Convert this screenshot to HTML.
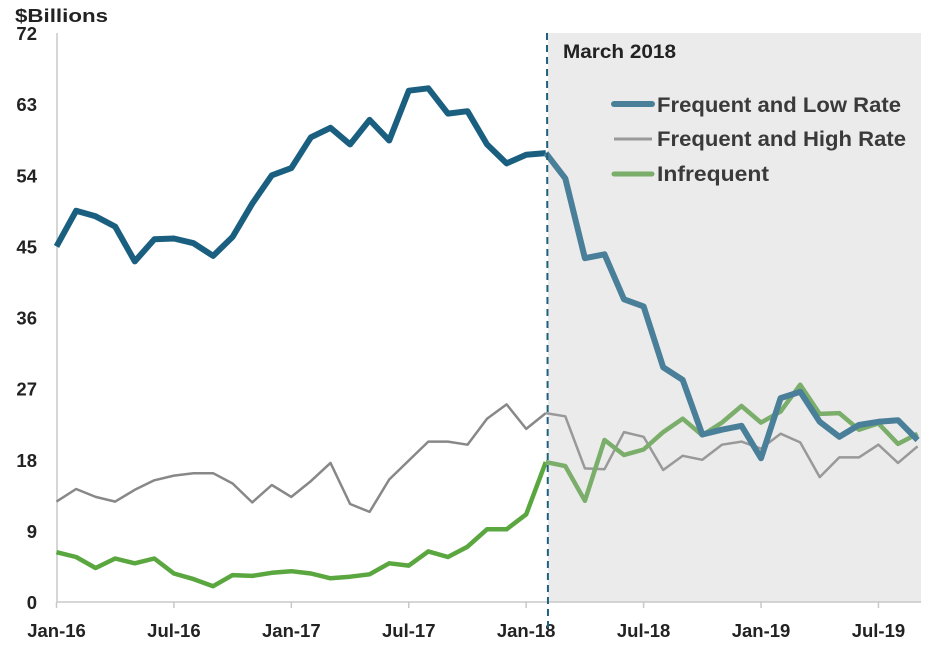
<!DOCTYPE html>
<html><head><meta charset="utf-8"><style>
html,body{margin:0;padding:0;background:#fff;}
svg{display:block;font-family:"Liberation Sans",Arial,sans-serif;}
</style></head><body>
<svg id="chart" width="940" height="645" viewBox="0 0 940 645" xmlns="http://www.w3.org/2000/svg">
<rect x="548" y="33" width="373" height="569" fill="#ebebeb"/>
<g id="grid"></g>
<g id="series"></g>
<line x1="547" y1="33" x2="548" y2="632" stroke="#1f5f7f" stroke-width="2" stroke-dasharray="7,5"/>
<text x="563" y="58" font-size="19" font-weight="bold" fill="#222" textLength="113" lengthAdjust="spacingAndGlyphs">March 2018</text>
<text x="15" y="22" font-size="18" font-weight="bold" fill="#222" textLength="93" lengthAdjust="spacingAndGlyphs">$Billions</text>
<g>
<line x1="614" y1="104" x2="652" y2="104" stroke="#4a7f99" stroke-width="6" stroke-linecap="round"/>
<text x="657" y="112" font-size="21" font-weight="bold" fill="#3a3a3a" textLength="244" lengthAdjust="spacingAndGlyphs">Frequent and Low Rate</text>
<line x1="614" y1="139" x2="652" y2="139" stroke="#999" stroke-width="3"/>
<text x="657" y="146" font-size="21" font-weight="bold" fill="#3a3a3a" textLength="249" lengthAdjust="spacingAndGlyphs">Frequent and High Rate</text>
<line x1="614" y1="174" x2="652" y2="174" stroke="#7aae6a" stroke-width="5" stroke-linecap="round"/>
<text x="657" y="181" font-size="21" font-weight="bold" fill="#3a3a3a" textLength="112" lengthAdjust="spacingAndGlyphs">Infrequent</text>
</g>
</svg>
<script>
const yTicks=[0,9,18,27,36,45,54,63,72];
const xTickLabels=["Jan-16","Jul-16","Jan-17","Jul-17","Jan-18","Jul-18","Jan-19","Jul-19"];
const xTickIndex=[0,6,12,18,24,30,36,42];
const splitIndex=25;
const lowRate=[45.0,49.5,48.8,47.5,43.1,45.9,46.0,45.4,43.8,46.2,50.4,54.0,54.9,58.8,60.0,57.9,61.0,58.4,64.7,65.0,61.8,62.1,57.9,55.5,56.6,56.8,53.6,43.5,44.0,38.3,37.4,29.7,28.1,21.2,21.8,22.3,18.2,25.8,26.6,22.8,20.9,22.4,22.8,23.0,20.5];
const highRate=[12.7,14.3,13.3,12.7,14.2,15.4,16.0,16.3,16.3,15.0,12.6,14.8,13.3,15.3,17.6,12.4,11.4,15.5,17.9,20.3,20.3,19.9,23.2,25.0,21.9,23.9,23.5,16.9,16.8,21.5,20.9,16.7,18.5,18.0,19.9,20.3,19.4,21.3,20.2,15.8,18.3,18.3,19.9,17.6,19.7];
const infrequent=[6.3,5.7,4.3,5.5,4.9,5.5,3.6,2.9,2.0,3.4,3.3,3.7,3.9,3.6,3.0,3.2,3.5,4.9,4.6,6.4,5.7,7.0,9.2,9.2,11.1,17.7,17.2,12.8,20.5,18.6,19.3,21.5,23.2,21.1,22.7,24.8,22.7,24.1,27.5,23.8,23.9,21.8,22.6,20.0,21.3];
const X0=56.5,DX=19.57,Y0=602,YMAX=72,YTOP=33;
const xs=i=>X0+i*DX;
const ys=v=>Y0-(v/YMAX)*(Y0-YTOP);
const NS="http://www.w3.org/2000/svg";
const grid=document.getElementById('grid');
function mk(tag,attrs,parent){const e=document.createElementNS(NS,tag);for(const k in attrs)e.setAttribute(k,attrs[k]);parent.appendChild(e);return e;}
let ax=mk('line',{x1:57,y1:33,x2:57,y2:602,stroke:'#c8c8c8','stroke-width':1.5},grid);


let bx=mk('line',{x1:57,y1:602,x2:921,y2:602,stroke:'#c8c8c8','stroke-width':1.5},grid);


yTicks.forEach(v=>{
  const t=mk('text',{x:37,y:ys(v)+7,'text-anchor':'end','font-size':18.5,'font-weight':'bold',fill:'#222'},grid);
  t.textContent=v;
  
  
});
xTickLabels.forEach((lab,k)=>{
  const x=xs(xTickIndex[k]);
  const tk=mk('line',{x1:x,y1:602,x2:x,y2:608,stroke:'#c8c8c8','stroke-width':1.5},grid);
  
  
  const t=mk('text',{x:x,y:637,'text-anchor':'middle','font-size':18.5,'font-weight':'bold',fill:'#222'},grid);
  t.textContent=lab;
  
  
});
const sg=document.getElementById('series');
function draw(data,name,c1,c2,w){
  const pts=(a,b)=>data.slice(a,b+1).map((v,j)=>xs(a+j).toFixed(1)+','+ys(v).toFixed(1)).join(' ');
  const p1=mk('polyline',{points:pts(0,splitIndex),fill:'none',stroke:c1,'stroke-width':w,'stroke-linejoin':'round'},sg);
  
  
  const p2=mk('polyline',{points:pts(splitIndex,data.length-1),fill:'none',stroke:c2,'stroke-width':w,'stroke-linejoin':'round'},sg);
  
  
}
draw(highRate,'frequent-high-rate','#888','#999',2.5);
draw(infrequent,'infrequent','#5aa63f','#7aae6a',4.5);
draw(lowRate,'frequent-low-rate','#1a5f80','#4a7f99',6);
</script>
</body></html>
